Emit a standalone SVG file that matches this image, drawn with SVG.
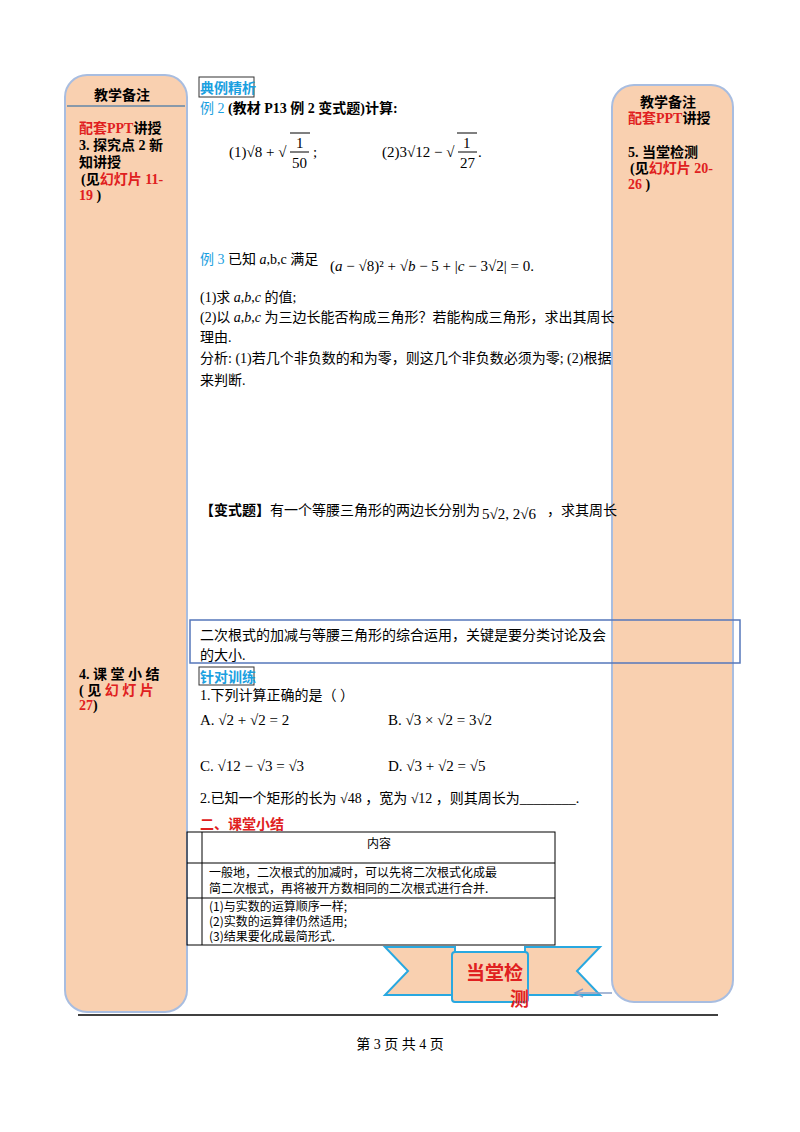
<svg xmlns="http://www.w3.org/2000/svg" width="800" height="1132" viewBox="0 0 800 1132">
<style>
.t{font-family:"Liberation Serif","Noto Sans CJK SC",serif;font-size:14px;fill:#000}
.s{font-family:"Noto Sans CJK SC",sans-serif;font-size:12px;fill:#000}
.b{font-weight:bold}
.r{fill:#e02020}
.c{fill:#1aa0e0}
.panel{fill:#f9d0b0;stroke:#a8bde0;stroke-width:2}
.m{font-family:"Liberation Serif",serif;font-size:15px;fill:#000}
.i{font-style:italic}
.ln{stroke:#000;stroke-width:1;fill:none}
</style>
<rect width="800" height="1132" fill="#fff"/>
<g id="left-panel">
<rect class="panel" x="65" y="75" width="122" height="937" rx="22"/>
<line x1="67" y1="106" x2="185" y2="106" stroke="#8899aa" stroke-width="2"/>
<text class="t b" x="94" y="100" font-size="13">教学备注</text>
<text class="t b" x="79" y="133" font-size="13"><tspan class="r">配套PPT</tspan>讲授</text>
<text class="t b" x="79" y="150" font-size="13">3. 探究点 2 新</text>
<text class="t b" x="79" y="167" font-size="13">知讲授</text>
<text class="t b" x="81" y="184" font-size="13">(见<tspan class="r">幻灯片 11-</tspan></text>
<text class="t b" x="79" y="200" font-size="13"><tspan class="r">19</tspan> )</text>
<text class="t b" x="79" y="679" font-size="13">4. 课 堂 小 结</text>
<text class="t b" x="79" y="695" font-size="13">( 见 <tspan class="r">幻 灯 片</tspan></text>
<text class="t b" x="79" y="710" font-size="13"><tspan class="r">27</tspan>)</text>
</g>
<g id="right-panel">
<rect class="panel" x="612" y="85" width="121" height="917" rx="22"/>
<text class="t b" x="640" y="107" font-size="13">教学备注</text>
<text class="t b" x="628" y="123" font-size="13"><tspan class="r">配套PPT</tspan>讲授</text>
<text class="t b" x="628" y="157" font-size="13">5. 当堂检测</text>
<text class="t b" x="630" y="173" font-size="13">(见<tspan class="r">幻灯片 20-</tspan></text>
<text class="t b" x="628" y="189" font-size="13"><tspan class="r">26</tspan> )</text>
</g>
<g id="content">
<rect x="199" y="77" width="55" height="20" fill="none" stroke="#333"/>
<text class="t b c" x="200" y="93" font-size="14">典例精析</text>
<text class="t b" x="200" y="113"><tspan class="c" font-weight="normal">例 2</tspan> (教材 P13 例 2 变式题)计算:</text>
<text class="m" x="229" y="157">(1)√8 + √</text>
<line class="ln" x1="290" y1="133" x2="310" y2="133"/>
<text class="m" x="296" y="148">1</text>
<line class="ln" x1="290" y1="152" x2="309" y2="152"/>
<text class="m" x="292" y="168">50</text>
<text class="m" x="313" y="157">;</text>
<text class="m" x="382" y="157">(2)3√12 − √</text>
<line class="ln" x1="457" y1="133" x2="477" y2="133"/>
<text class="m" x="463" y="148">1</text>
<line class="ln" x1="458" y1="152" x2="477" y2="152"/>
<text class="m" x="460" y="168">27</text>
<text class="m" x="478" y="157">.</text>
<text class="t" x="200" y="264"><tspan class="c">例 3</tspan>   已知 <tspan class="i">a</tspan>,b,c 满足</text>
<text class="m" x="330" y="271">(<tspan class="i">a</tspan> − √8)² + √<tspan class="i">b</tspan> − 5 + |<tspan class="i">c</tspan> − 3√2| = 0.</text>
<text class="t" x="200" y="302">(1)求 <tspan class="i">a</tspan>,<tspan class="i">b</tspan>,<tspan class="i">c</tspan> 的值;</text>
<text class="t" x="200" y="322">(2)以 <tspan class="i">a</tspan>,<tspan class="i">b</tspan>,<tspan class="i">c</tspan> 为三边长能否构成三角形？若能构成三角形，求出其周长</text>
<text class="t" x="200" y="342">理由.</text>
<text class="t" x="200" y="363">分析: (1)若几个非负数的和为零，则这几个非负数必须为零; (2)根据</text>
<text class="t" x="200" y="385">来判断.</text>
<text class="t" x="200" y="515"><tspan class="b">【变式题】</tspan>有一个等腰三角形的两边长分别为</text>
<text class="m" x="482" y="519">5√2, 2√6</text>
<text class="t" x="547" y="515">，求其周长</text>
<rect x="190" y="620" width="550" height="43" fill="none" stroke="#5577bb" stroke-width="1.5"/>
<text class="t" x="200" y="640">二次根式的加减与等腰三角形的综合运用，关键是要分类讨论及会</text>
<text class="t" x="200" y="660">的大小.</text>
<rect x="199" y="667" width="55" height="18" fill="none" stroke="#333"/>
<text class="t b c" x="200" y="682">针对训练</text>
<text class="t" x="200" y="700">1.下列计算正确的是（        ）</text>
<text class="m" x="200" y="725">A. √2 + √2 = 2</text>
<text class="m" x="388" y="725">B. √3 × √2 = 3√2</text>
<text class="m" x="200" y="771">C. √12 − √3 = √3</text>
<text class="m" x="388" y="771">D. √3 + √2 = √5</text>
<text class="t" x="200" y="803">2.已知一个矩形的长为 √48 ，宽为 √12 ，则其周长为________.</text>
<text class="t b r" x="200" y="829">二、课堂小结</text>
</g>
<g id="table">
<rect x="187" y="832" width="368" height="113" fill="none" stroke="#000"/>
<line class="ln" x1="202" y1="832" x2="202" y2="945"/>
<line class="ln" x1="187" y1="863" x2="555" y2="863"/>
<line class="ln" x1="187" y1="898" x2="555" y2="898"/>
<text class="s" x="367" y="848">内容</text>
<text class="s" x="209" y="877">一般地，二次根式的加减时，可以先将二次根式化成最</text>
<text class="s" x="209" y="893">简二次根式，再将被开方数相同的二次根式进行合并.</text>
<text class="s" x="209" y="911">(1)与实数的运算顺序一样;</text>
<text class="s" x="209" y="926">(2)实数的运算律仍然适用;</text>
<text class="s" x="209" y="941">(3)结果要化成最简形式.</text>
</g>
<g id="ribbon">
<polygon points="385,947 455,947 455,995 385,995 408,971" fill="#f9d0b0" stroke="#29a8e0" stroke-width="2"/>
<polygon points="600,947 525,947 525,995 600,995 577,971" fill="#f9d0b0" stroke="#29a8e0" stroke-width="2"/>
<rect x="452" y="952" width="76" height="50" rx="3" fill="#f9d0b0" stroke="#29a8e0" stroke-width="2"/>
<text x="466" y="980" font-family="Noto Sans CJK SC,sans-serif" font-size="19" font-weight="bold" fill="#e02020">当堂检</text>
<text x="510" y="1006" font-family="Noto Sans CJK SC,sans-serif" font-size="19" font-weight="bold" fill="#e02020">测</text>
</g>
<g id="connectors">
<line x1="612" y1="993" x2="575" y2="993" stroke="#8aa0c8" stroke-width="1.5"/>
<polyline points="583,989 575,993 583,997" fill="none" stroke="#8aa0c8" stroke-width="1.5"/>
</g>
<line x1="78" y1="1015" x2="718" y2="1015" stroke="#000" stroke-width="1.5"/>
<text class="t" x="400" y="1049" font-size="12" text-anchor="middle">第 3 页 共 4 页</text>
</svg>
